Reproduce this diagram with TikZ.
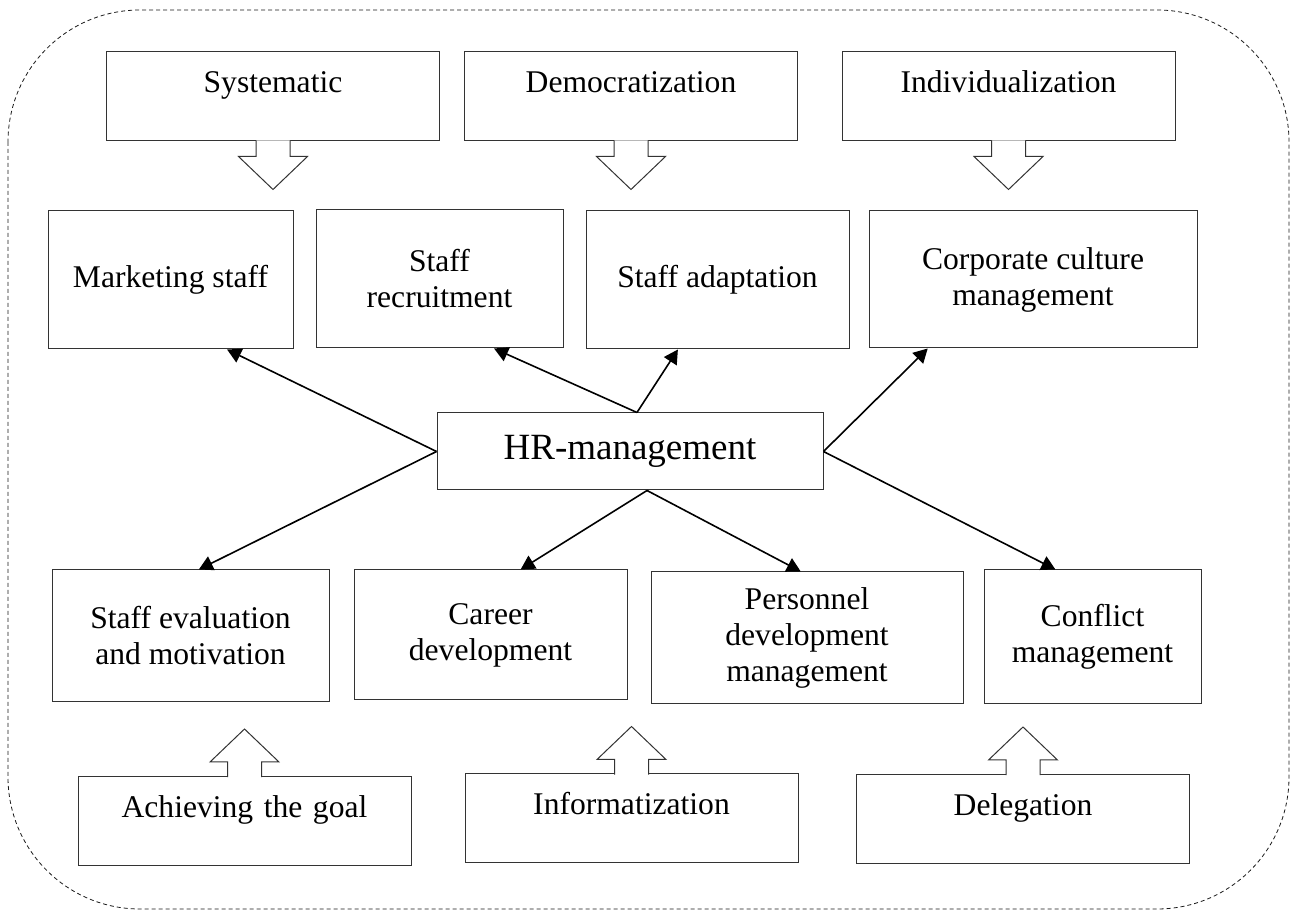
\documentclass[tikz,border=0pt]{standalone}
\usepackage{fontspec}
\setmainfont{Liberation Serif}
\usepackage{tikz}
\usetikzlibrary{arrows,arrows.meta,calc}

\newcommand{\pushdown}[1]{%
\draw[blockarrow] ([xshift=-8.5pt,yshift=0.6pt]#1.south) -- ++(0,-8.1pt) -- ++(-8.75pt,0)
  -- ([yshift=-24pt]#1.south) -- ++(17.25pt,16.5pt) -- ++(-8.75pt,0) -- ++(0,8.1pt);}
\newcommand{\pushup}[1]{%
\draw[blockarrow] ([xshift=-8.5pt,yshift=-0.6pt]#1.north) -- ++(0,7.6pt) -- ++(-8.75pt,0)
  -- ([yshift=23.5pt]#1.north) -- ++(17.25pt,-16.5pt) -- ++(-8.75pt,0) -- ++(0,-7.6pt);}

\begin{document}
\begin{tikzpicture}[x=0.5pt,y=-0.5pt,
  every node/.style={font=\fontsize{15.8pt}{18pt}\selectfont},
  principle/.style={draw=black!80, line width=0.5pt, align=center, inner sep=0pt,
    text width=166.5pt, text height=20.5pt, text depth=24pt},
  unit/.style={draw=black!80, line width=0.5pt, align=center, inner sep=0pt},
  blockarrow/.style={draw=black!80, line width=0.5pt, fill=white},
  link/.style={-{Triangle[length=7pt,width=7.5pt]}, line width=0.8pt}]
\useasboundingbox (0,0) rectangle (1291,913);
\draw[black!90, line width=0.4pt, dash pattern=on 2pt off 1.5pt, rounded corners=66pt]
  (8,10) rectangle (1289,909);

\node[principle] (sys) at (273,96.5) {Systematic};
\node[principle] (dem) at (631,96.5) {Democratization};
\node[principle] (ind) at (1008.5,96.5) {Individualization};

\node[unit, minimum width=122.5pt, minimum height=69pt] (mkt) at (170.5,280) {Marketing staff};
\node[unit, minimum width=123.5pt, minimum height=69pt] (rec) at (439.5,279) {Staff\\recruitment};
\node[unit, minimum width=131.5pt, minimum height=69pt] (ada) at (717.5,280) {Staff adaptation};
\node[unit, minimum width=164pt, minimum height=68.5pt] (cor) at (1033,279.5) {Corporate culture\\management};

\node[unit, minimum width=193pt, minimum height=38.5pt, font=\fontsize{18.5pt}{21pt}\selectfont] (hr) at (630,451.5) {HR-management};

\node[unit, minimum width=138.5pt, minimum height=66pt] (eva) at (190.5,636) {Staff evaluation\\and motivation};
\node[unit, minimum width=136.5pt, minimum height=65pt] (car) at (490.5,635) {Career\\development};
\node[unit, minimum width=156pt, minimum height=66pt] (per) at (807,638) {Personnel\\development\\management};
\node[unit, minimum width=108.5pt, minimum height=67pt] (con) at (1092.5,637) {Conflict\\management};

\node[principle] (ach) at (244.5,821) {Achieving the goal};
\node[principle] (inf) at (631.5,818.5) {Informatization};
\node[principle] (del) at (1023,819) {Delegation};

\pushdown{sys}
\pushdown{dem}
\pushdown{ind}
\pushup{ach}
\pushup{inf}
\pushup{del}

\coordinate (hrtop) at ($(hr.north west)!.518!(hr.north east)$);
\coordinate (hrbot) at ($(hr.south west)!.544!(hr.south east)$);
\draw[link] (hr.west) -- ($(mkt.south west)!.73!(mkt.south east)$);
\draw[link] (hr.west) -- ($(eva.north west)!.53!(eva.north east)$);
\draw[link] (hrtop) -- ($(rec.south west)!.72!(rec.south east)$);
\draw[link] (hrtop) -- ($(ada.south west)!.35!(ada.south east)$);
\draw[link] (hr.east) -- ($(cor.south west)!.18!(cor.south east)$);
\draw[link] (hr.east) -- ($(con.north west)!.33!(con.north east)$);
\draw[link] (hrbot) -- ($(car.north west)!.61!(car.north east)$);
\draw[link] (hrbot) -- ($(per.north west)!.48!(per.north east)$);
\end{tikzpicture}
\end{document}
